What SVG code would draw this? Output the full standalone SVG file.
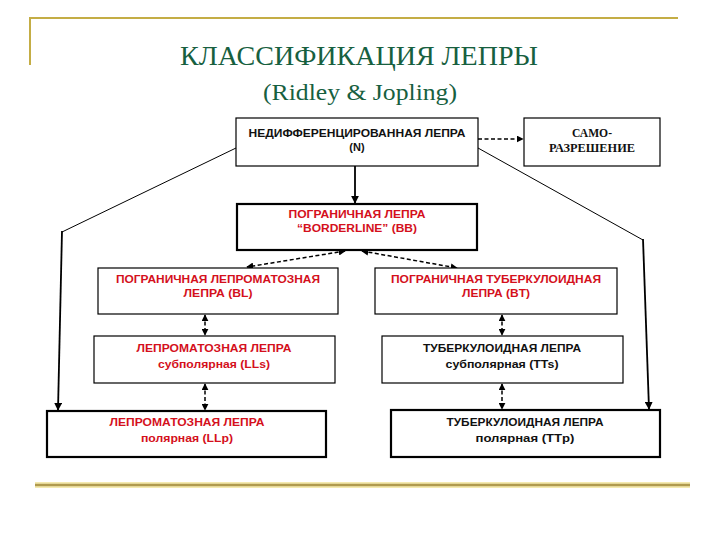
<svg xmlns="http://www.w3.org/2000/svg" width="720" height="540" viewBox="0 0 720 540">
<defs>
<marker id="ah" viewBox="0 0 10 10" refX="9" refY="5" markerWidth="7" markerHeight="7" markerUnits="userSpaceOnUse" orient="auto-start-reverse">
<path d="M0,0 L10,5 L0,10 z" fill="#000"/>
</marker>
<marker id="ahs" viewBox="0 0 10 10" refX="9" refY="5" markerWidth="8" markerHeight="8" markerUnits="userSpaceOnUse" orient="auto-start-reverse">
<path d="M0,0 L10,5 L0,10 z" fill="#000"/>
</marker>
<style>
.box{fill:#fff;stroke:#000;stroke-width:1.2}
.thick{stroke-width:2.2}
.lbl{font-family:"Liberation Sans",Arial,sans-serif;font-weight:bold;font-size:11px;text-anchor:middle}
.red{fill:#d4101c}
.blk{fill:#111}
.ser{font-family:"Liberation Serif","Times New Roman",serif;font-weight:bold;font-size:11.5px;text-anchor:middle;fill:#111}
.title{font-family:"Liberation Serif","Times New Roman",serif;fill:#17603f;text-anchor:middle}
.dash{fill:none;stroke:#000;stroke-width:1.5;stroke-dasharray:4,2.5}
.solid{fill:none;stroke:#000}
</style>
</defs>
<g id="frame">
<path d="M30,65 V18 H678" fill="none" stroke="#c4ad45" stroke-width="2"/>
<line x1="35" y1="485" x2="690" y2="485" stroke="#f5eab0" stroke-width="6"/>
<line x1="35" y1="485" x2="690" y2="485" stroke="#b09a4e" stroke-width="2.5"/>
</g>
<g id="title">
<text class="title" x="359" y="65" font-size="28" textLength="358" lengthAdjust="spacingAndGlyphs">КЛАССИФИКАЦИЯ ЛЕПРЫ</text>
<text class="title" x="360" y="100" font-size="24" textLength="194" lengthAdjust="spacingAndGlyphs">(Ridley &amp; Jopling)</text>
</g>
<g id="connectors">
<line class="solid" x1="355" y1="166" x2="355" y2="203" stroke-width="1.8" marker-end="url(#ahs)"/>
<line class="dash" x1="478" y1="139" x2="523" y2="139" marker-end="url(#ah)"/>
<line class="solid" x1="236" y1="148" x2="62" y2="232" stroke-width="1"/>
<line class="solid" x1="62" y1="231" x2="58" y2="410" stroke-width="1.8" marker-end="url(#ahs)"/>
<line class="solid" x1="478" y1="148" x2="643" y2="240" stroke-width="1"/>
<line class="solid" x1="643" y1="239" x2="649" y2="409" stroke-width="1.8" marker-end="url(#ahs)"/>
<line class="dash" x1="345" y1="251" x2="247" y2="267" marker-start="url(#ah)" marker-end="url(#ah)"/>
<line class="dash" x1="362" y1="251" x2="457" y2="268" marker-start="url(#ah)" marker-end="url(#ah)"/>
<line class="dash" x1="205" y1="315" x2="205" y2="335" marker-start="url(#ah)" marker-end="url(#ah)"/>
<line class="dash" x1="205" y1="384" x2="205" y2="410" marker-start="url(#ah)" marker-end="url(#ah)"/>
<line class="dash" x1="502" y1="315" x2="502" y2="335" marker-start="url(#ah)" marker-end="url(#ah)"/>
<line class="dash" x1="502" y1="384" x2="502" y2="409" marker-start="url(#ah)" marker-end="url(#ah)"/>
</g>
<g id="n">
<rect class="box" x="236" y="118" width="242" height="48"/>
<text class="lbl blk" x="357" y="137" textLength="217" lengthAdjust="spacingAndGlyphs">НЕДИФФЕРЕНЦИРОВАННАЯ ЛЕПРА</text>
<text class="lbl blk" x="357" y="151">(N)</text>
</g>
<g id="self">
<rect class="box" x="524" y="118" width="136" height="48"/>
<text class="ser" x="592" y="137" textLength="40" lengthAdjust="spacingAndGlyphs">САМО-</text>
<text class="ser" x="592" y="152" textLength="86" lengthAdjust="spacingAndGlyphs">РАЗРЕШЕНИЕ</text>
</g>
<g id="bb">
<rect class="box thick" x="237" y="204" width="240" height="46"/>
<text class="lbl red" x="357" y="218" textLength="137" lengthAdjust="spacingAndGlyphs">ПОГРАНИЧНАЯ ЛЕПРА</text>
<text class="lbl red" x="357" y="232" textLength="120" lengthAdjust="spacingAndGlyphs">“BORDERLINE” (BB)</text>
</g>
<g id="bl">
<rect class="box" x="98" y="268" width="240" height="46"/>
<text class="lbl red" x="218" y="283" textLength="204" lengthAdjust="spacingAndGlyphs">ПОГРАНИЧНАЯ ЛЕПРОМАТОЗНАЯ</text>
<text class="lbl red" x="218" y="297" textLength="69" lengthAdjust="spacingAndGlyphs">ЛЕПРА (BL)</text>
</g>
<g id="bt">
<rect class="box" x="375" y="268" width="242" height="46"/>
<text class="lbl red" x="496" y="283" textLength="210" lengthAdjust="spacingAndGlyphs">ПОГРАНИЧНАЯ ТУБЕРКУЛОИДНАЯ</text>
<text class="lbl red" x="496" y="297" textLength="68" lengthAdjust="spacingAndGlyphs">ЛЕПРА (BT)</text>
</g>
<g id="lls">
<rect class="box" x="94" y="336" width="241" height="47"/>
<text class="lbl red" x="214" y="352" textLength="155" lengthAdjust="spacingAndGlyphs">ЛЕПРОМАТОЗНАЯ ЛЕПРА</text>
<text class="lbl red" x="214" y="368" textLength="112" lengthAdjust="spacingAndGlyphs">субполярная (LLs)</text>
</g>
<g id="tts">
<rect class="box" x="382" y="336" width="241" height="47"/>
<text class="lbl blk" x="502" y="352" textLength="158" lengthAdjust="spacingAndGlyphs">ТУБЕРКУЛОИДНАЯ ЛЕПРА</text>
<text class="lbl blk" x="502" y="368" textLength="113" lengthAdjust="spacingAndGlyphs">субполярная (TTs)</text>
</g>
<g id="llp">
<rect class="box thick" x="47" y="411" width="279" height="46"/>
<text class="lbl red" x="187" y="426" textLength="155" lengthAdjust="spacingAndGlyphs">ЛЕПРОМАТОЗНАЯ ЛЕПРА</text>
<text class="lbl red" x="187" y="442" textLength="92" lengthAdjust="spacingAndGlyphs">полярная (LLp)</text>
</g>
<g id="ttp">
<rect class="box thick" x="391" y="410" width="269" height="47"/>
<text class="lbl blk" x="525" y="426" textLength="157" lengthAdjust="spacingAndGlyphs">ТУБЕРКУЛОИДНАЯ ЛЕПРА</text>
<text class="lbl blk" x="525" y="442" textLength="99" lengthAdjust="spacingAndGlyphs">полярная (TTp)</text>
</g>
</svg>
